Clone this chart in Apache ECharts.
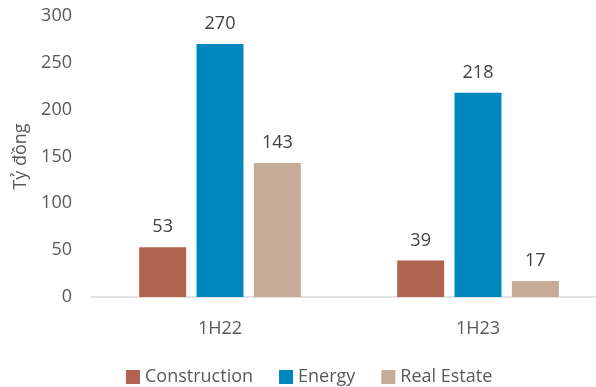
<!DOCTYPE html>
<html>
<head>
<meta charset="utf-8">
<script src="https://cdn.jsdelivr.net/npm/echarts@6/dist/echarts.min.js"></script>
<style>html,body{margin:0;padding:0;background:#fff}#c{width:596px;height:387px}</style>
</head>
<body>
<div id="c"></div>
<script>
const categories = ['1H22', '1H23'];
const construction = [53, 39];
const energy = [270, 218];
const realEstate = [143, 17];
const yTicks = [0, 50, 100, 150, 200, 250, 300];

const font = '"Open Sans", "Noto Sans", sans-serif';
const chart = echarts.init(document.getElementById('c'), null, {renderer: 'canvas'});
const lbl = {show: true, position: 'top', distance: 11, color: '#404040', fontSize: 18, fontFamily: font};
chart.setOption({
  animation: false,
  textStyle: {fontFamily: font},
  grid: {left: 91, width: 516, top: 16, bottom: 90, outerBoundsMode: 'none', containLabel: false},
  legend: {
    top: 363, left: 121, itemWidth: 14, itemHeight: 14, itemGap: 26,
    icon: 'rect',
    textStyle: {fontSize: 18, color: '#595959', fontFamily: font},
    data: ['Construction', 'Energy', 'Real Estate']
  },
  xAxis: {
    type: 'category', data: categories,
    axisLine: {lineStyle: {color: '#d9d9d9', width: 1.5}},
    axisTick: {show: false},
    axisLabel: {color: '#595959', fontSize: 18, margin: 23, fontFamily: font}
  },
  yAxis: {
    type: 'value', min: yTicks[0], max: yTicks[yTicks.length - 1], interval: 50,
    name: 'Tỷ đồng', nameLocation: 'middle', nameGap: 57, nameRotate: 90,
    nameTextStyle: {color: '#595959', fontSize: 18, fontFamily: font},
    axisLine: {show: false}, axisTick: {show: false}, splitLine: {show: false},
    axisLabel: {color: '#595959', fontSize: 18, margin: 19, fontFamily: font}
  },
  series: [
    {name: 'Construction', type: 'bar', data: construction, barWidth: 47, barGap: '22%', itemStyle: {color: '#AE6450'}, label: lbl},
    {name: 'Energy', type: 'bar', data: energy, barWidth: 47, barGap: '22%', itemStyle: {color: '#0088BC'}, label: lbl},
    {name: 'Real Estate', type: 'bar', data: realEstate, barWidth: 47, barGap: '22%', itemStyle: {color: '#C5AB98'}, label: lbl}
  ]
});
</script>
</body>
</html>
